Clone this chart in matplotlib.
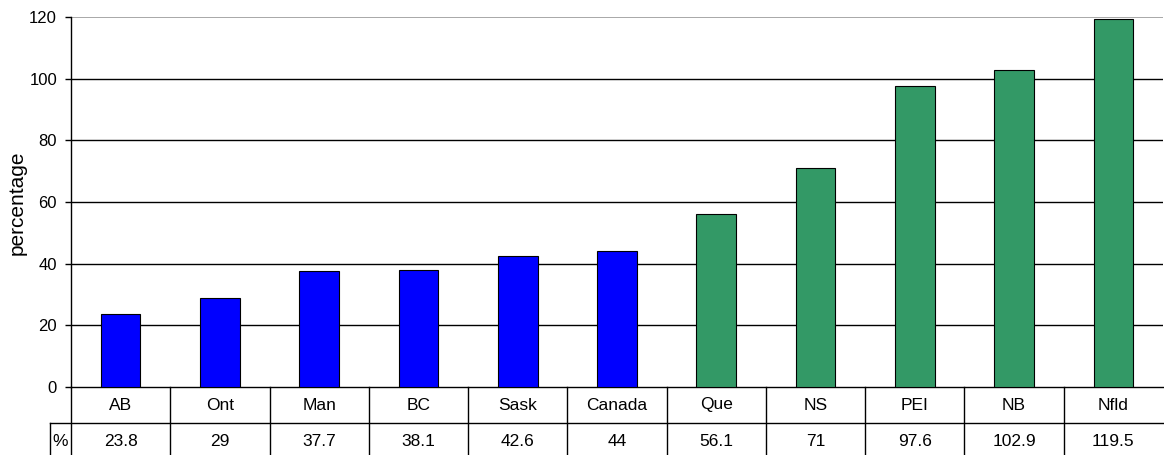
import matplotlib
matplotlib.use("Agg")
import matplotlib.pyplot as plt
from matplotlib.lines import Line2D
from matplotlib import font_manager

categories = ["AB", "Ont", "Man", "BC", "Sask", "Canada", "Que", "NS", "PEI", "NB", "Nfld"]
values = [23.8, 29, 37.7, 38.1, 42.6, 44, 56.1, 71, 97.6, 102.9, 119.5]
value_labels = ["23.8", "29", "37.7", "38.1", "42.6", "44", "56.1", "71", "97.6", "102.9", "119.5"]
colors = ["#0000FF"] * 6 + ["#339966"] * 5
yticks = [0, 20, 40, 60, 80, 100, 120]

available = {f.name for f in font_manager.fontManager.ttflist}
if "Liberation Sans Narrow" in available:
    narrow = "Liberation Sans Narrow"
    tick_fs, tbl_fs = 14, 15
else:
    narrow = "Liberation Sans"
    tick_fs, tbl_fs = 12, 12.5

plt.rcParams['font.family'] = ['Liberation Sans', 'DejaVu Sans']

W, H = 1164, 455
fig = plt.figure(figsize=(W / 100, H / 100), dpi=100)
left_px, right_px, top_px, bot_px = 71, 1163, 17, 387
ax = fig.add_axes([left_px / W, 1 - bot_px / H, (right_px - left_px) / W, (bot_px - top_px) / H])

n = len(categories)
x = list(range(n))
ax.bar(x, values, width=0.4, color=colors, edgecolor="black", linewidth=0.8, zorder=3)
ax.set_xlim(-0.5, n - 0.5)
ax.set_ylim(0, 120)
ax.set_yticks(yticks)
ax.set_yticklabels([str(t) for t in yticks], fontsize=tick_fs, family=[narrow, 'DejaVu Sans'])
for t in yticks[1:-1]:
    ax.axhline(t, color="black", linewidth=1, zorder=1)
ax.axhline(120, color="#999999", linewidth=1.2, zorder=1)
ax.set_xticks([])
for s in ["top", "right"]:
    ax.spines[s].set_visible(False)
ax.spines["left"].set_linewidth(1)
ax.spines["bottom"].set_linewidth(1)
ax.tick_params(axis="y", length=4, width=1, pad=6)

def fy(px):
    return 1 - px / H

def fx(px):
    return px / W

fig.text(fx(17), fy(203), "percentage", rotation=90, ha="center", va="center", fontsize=15)

# data table below axes
row1_top, row2_top, tbl_bot = 387, 423, 455
cell_w = (right_px - left_px) / n
fig.add_artist(Line2D([fx(50), fx(right_px)], [fy(row2_top), fy(row2_top)], color="black", lw=1))
for i in range(n):
    xp = left_px + i * cell_w
    fig.add_artist(Line2D([fx(xp), fx(xp)], [fy(row1_top), fy(tbl_bot)], color="black", lw=1))
fig.add_artist(Line2D([fx(50), fx(50)], [fy(row2_top), fy(tbl_bot)], color="black", lw=1))
for i in range(n):
    xc = left_px + (i + 0.5) * cell_w
    fig.text(fx(xc), fy(405), categories[i], ha="center", va="center", fontsize=tbl_fs,
             family=[narrow, 'DejaVu Sans'])
    fig.text(fx(xc), fy(441), value_labels[i], ha="center", va="center", fontsize=tbl_fs,
             family=[narrow, 'DejaVu Sans'])
fig.text(fx(60.5), fy(441), "%", ha="center", va="center", fontsize=tbl_fs, family=[narrow, 'DejaVu Sans'])

fig.savefig("out.png", dpi=100)
